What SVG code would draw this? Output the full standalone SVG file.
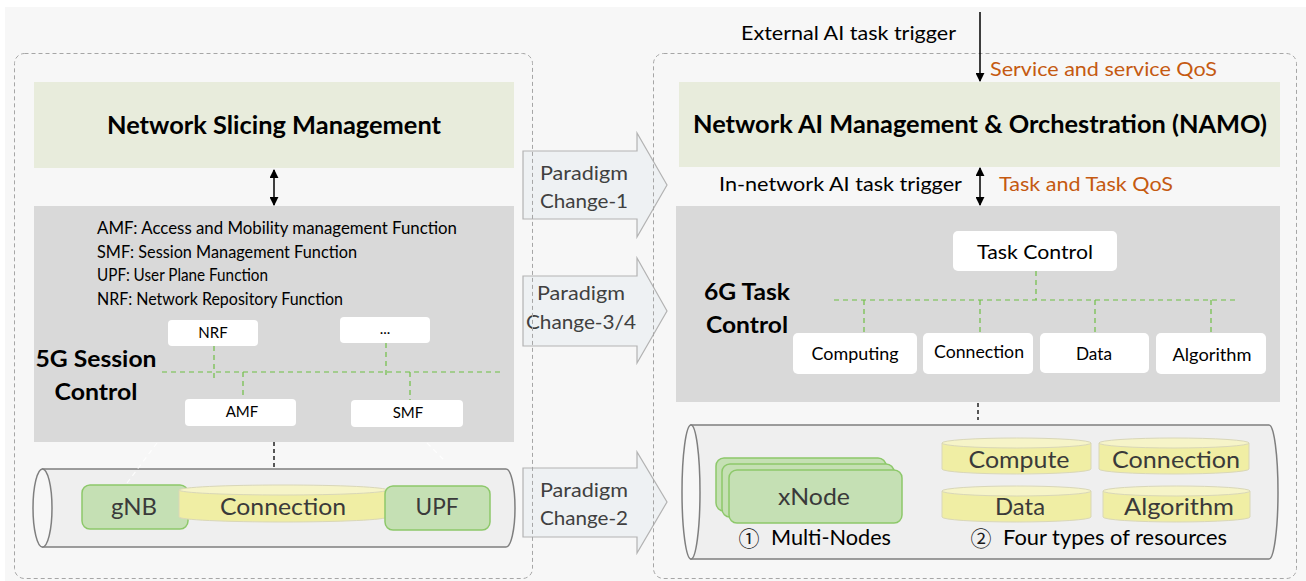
<svg xmlns="http://www.w3.org/2000/svg" width="1306" height="581" viewBox="0 0 1306 581">
<defs>
<style>
.panel{fill:none;stroke:#a6a6a6;stroke-width:1;stroke-dasharray:4 3}
.mgmt{fill:#e8ecdc}
.ctrl{fill:#d9d9d9}
.wbox{fill:#ffffff}
.gdash{fill:none;stroke:#6fbf45;stroke-width:1.2;stroke-dasharray:5 4}
.kdash{fill:none;stroke:#222;stroke-width:1.5;stroke-dasharray:4 3}
.wdash{fill:none;stroke:#ffffff;stroke-width:1.2;stroke-dasharray:5 4;opacity:0.8}
.arr{fill:none;stroke:#000;stroke-width:1.5}
.t{font-family:Lato,"Liberation Sans",sans-serif;fill:#000}
.b{font-weight:bold}
.node{fill:#c5e0b4;stroke:#8dc86a;stroke-width:1.5}
.cyl{fill:#efefef;stroke:#7f7f7f;stroke-width:1.5}
.cylend{fill:#f7f7f7;stroke:#7f7f7f;stroke-width:1.5}
.yb{fill:#f0eea4;stroke:#d9d7b8;stroke-width:1}
.yt{fill:#f6f4c8;stroke:#d9d7b8;stroke-width:1}
.org{fill:#c55a11}
.para{fill:#eef1f3;stroke:#b3b3b3;stroke-width:1.2}
.pt{font-family:Lato,"Liberation Sans",sans-serif;fill:#404040;font-size:20px}
.big{font-size:24px;fill:#3a3a3a}
.circ{font-family:"Noto Sans CJK SC","DejaVu Sans",sans-serif;font-size:21px;fill:#1a1a1a}
</style>
<marker id="ah" viewBox="0 0 10 10" refX="9" refY="5" markerWidth="9" markerHeight="9" markerUnits="userSpaceOnUse" orient="auto-start-reverse"><path d="M0,0 L10,5 L0,10 Z" fill="#000"/></marker>
</defs>

<rect x="0" y="0" width="1306" height="581" fill="#ffffff"/>
<rect x="5" y="7" width="1301" height="574" fill="#f7f7f7"/>

<!-- Paradigm change arrows -->
<g id="paradigm1">
<polygon class="para" points="523,151 637,151 637,133 667,185 637,237 637,219 523,219"/>
<text class="pt" x="584" y="180" text-anchor="middle" textLength="88" lengthAdjust="spacingAndGlyphs">Paradigm</text>
<text class="pt" x="584" y="208" text-anchor="middle" textLength="88" lengthAdjust="spacingAndGlyphs">Change-1</text>
</g>
<g id="paradigm34">
<polygon class="para" points="523,276 637,276 637,258 667,311 637,363 637,346 523,346"/>
<text class="pt" x="581" y="300" text-anchor="middle" textLength="88" lengthAdjust="spacingAndGlyphs">Paradigm</text>
<text class="pt" x="581" y="329" text-anchor="middle" textLength="110" lengthAdjust="spacingAndGlyphs">Change-3/4</text>
</g>
<g id="paradigm2">
<polygon class="para" points="523,468 637,468 637,452 667,502 637,553 637,537 523,537"/>
<text class="pt" x="584" y="497" text-anchor="middle" textLength="88" lengthAdjust="spacingAndGlyphs">Paradigm</text>
<text class="pt" x="584" y="525" text-anchor="middle" textLength="88" lengthAdjust="spacingAndGlyphs">Change-2</text>
</g>

<!-- panels -->
<rect id="panel5g" class="panel" x="14.5" y="53.5" width="518" height="525" rx="10"/>
<rect id="panel6g" class="panel" x="653.5" y="53.5" width="643" height="525" rx="10"/>

<!-- LEFT -->
<g id="nsm">
<rect class="mgmt" x="34" y="82" width="480" height="86"/>
<text class="t b" x="274" y="134" font-size="24" text-anchor="middle" textLength="334" lengthAdjust="spacingAndGlyphs">Network Slicing Management</text>
</g>
<g id="sc5g">
<rect class="ctrl" x="34" y="206" width="480" height="236"/>
<text class="t" x="97" y="234" font-size="17.5" textLength="360" lengthAdjust="spacingAndGlyphs">AMF: Access and Mobility management Function</text>
<text class="t" x="97" y="258" font-size="17.5" textLength="260" lengthAdjust="spacingAndGlyphs">SMF: Session Management Function</text>
<text class="t" x="97" y="281" font-size="17.5" textLength="171" lengthAdjust="spacingAndGlyphs">UPF: User Plane Function</text>
<text class="t" x="97" y="305" font-size="17.5" textLength="246" lengthAdjust="spacingAndGlyphs">NRF: Network Repository Function</text>
<text class="t b" x="96" y="367" font-size="23" text-anchor="middle" textLength="121" lengthAdjust="spacingAndGlyphs">5G Session</text>
<text class="t b" x="96" y="400" font-size="23" text-anchor="middle" textLength="83" lengthAdjust="spacingAndGlyphs">Control</text>
</g>
<g id="nrf"><rect class="wbox" x="168" y="320" width="90" height="26" rx="4"/><text class="t" x="213" y="338" font-size="15" text-anchor="middle">NRF</text></g>
<g id="etc"><rect class="wbox" x="340" y="317" width="90" height="26" rx="4"/><text class="t" x="385" y="334" font-size="15" text-anchor="middle">...</text></g>
<g id="amf"><rect class="wbox" x="185" y="399" width="111" height="27" rx="4"/><text class="t" x="242" y="417" font-size="15" text-anchor="middle">AMF</text></g>
<g id="smf"><rect class="wbox" x="351" y="400" width="112" height="27" rx="4"/><text class="t" x="408" y="418" font-size="15" text-anchor="middle">SMF</text></g>

<g id="cyl5g">
<path class="cyl" d="M42.5,469 H506 A9,39 0 0 1 506,547 H42.5 Z"/>
<ellipse class="cylend" cx="42.5" cy="508" rx="9.5" ry="39"/>
</g>
<g id="gnb"><rect class="node" x="82" y="485" width="106" height="44" rx="8"/><text class="t big" x="134" y="515" text-anchor="middle" textLength="46" lengthAdjust="spacingAndGlyphs">gNB</text></g>
<g id="conn5g">
<path class="yb" d="M179,490 V517 A104,5 0 0 0 387,517 V490 Z"/>
<ellipse class="yt" cx="283" cy="490" rx="104" ry="5"/>
<text class="t big" x="283" y="515" text-anchor="middle" textLength="126" lengthAdjust="spacingAndGlyphs" fill="#262626">Connection</text>
</g>
<g id="upf"><rect class="node" x="385" y="486" width="105" height="44" rx="8"/><text class="t big" x="437" y="515" text-anchor="middle" textLength="43" lengthAdjust="spacingAndGlyphs">UPF</text></g>

<!-- RIGHT -->
<g id="namo">
<rect class="mgmt" x="679" y="82" width="601" height="85"/>
<text class="t b" x="980" y="133" font-size="24" text-anchor="middle" textLength="574" lengthAdjust="spacingAndGlyphs">Network AI Management &amp; Orchestration (NAMO)</text>
</g>
<g id="labels">
<text class="t" x="741" y="40" font-size="20" textLength="215" lengthAdjust="spacingAndGlyphs" fill="#1a1a1a">External AI task trigger</text>
<text class="t org" x="990" y="76" font-size="20" textLength="227" lengthAdjust="spacingAndGlyphs">Service and service QoS</text>
<text class="t" x="719" y="191" font-size="20" textLength="243" lengthAdjust="spacingAndGlyphs" fill="#1a1a1a">In-network AI task trigger</text>
<text class="t org" x="999" y="191" font-size="20" textLength="174" lengthAdjust="spacingAndGlyphs">Task and Task QoS</text>
</g>
<g id="tc6g">
<rect class="ctrl" x="676" y="206" width="604" height="196"/>
<text class="t b" x="747" y="300" font-size="23" text-anchor="middle" textLength="86" lengthAdjust="spacingAndGlyphs">6G Task</text>
<text class="t b" x="747" y="333" font-size="23" text-anchor="middle" textLength="82" lengthAdjust="spacingAndGlyphs">Control</text>
</g>
<g id="taskcontrol"><rect class="wbox" x="953" y="231" width="164" height="40" rx="5"/><text class="t" x="1035" y="259" font-size="20" text-anchor="middle" textLength="116" lengthAdjust="spacingAndGlyphs">Task Control</text></g>
<g id="computing"><rect class="wbox" x="793" y="333" width="124" height="41" rx="5"/><text class="t" x="855" y="360" font-size="18" text-anchor="middle" textLength="87" lengthAdjust="spacingAndGlyphs">Computing</text></g>
<g id="connection"><rect class="wbox" x="923" y="333" width="110" height="41" rx="5"/><text class="t" x="979" y="358" font-size="18" text-anchor="middle" textLength="90" lengthAdjust="spacingAndGlyphs">Connection</text></g>
<g id="data"><rect class="wbox" x="1040" y="333" width="109" height="40" rx="5"/><text class="t" x="1094" y="360" font-size="18" text-anchor="middle" textLength="36" lengthAdjust="spacingAndGlyphs">Data</text></g>
<g id="algorithm"><rect class="wbox" x="1156" y="333" width="110" height="41" rx="5"/><text class="t" x="1212" y="361" font-size="18" text-anchor="middle" textLength="79" lengthAdjust="spacingAndGlyphs">Algorithm</text></g>

<g id="cyl6g">
<path class="cyl" d="M691,425 H1269 A9,67 0 0 1 1269,559 H691 Z"/>
<ellipse class="cylend" cx="691" cy="492" rx="9" ry="67"/>
</g>
<g id="xnode">
<rect class="node" x="716" y="458" width="170" height="53" rx="8"/>
<rect class="node" x="722" y="464" width="172" height="53" rx="8"/>
<rect class="node" x="729" y="470" width="173" height="53" rx="8"/>
<text class="t big" x="814" y="505" text-anchor="middle" textLength="72" lengthAdjust="spacingAndGlyphs">xNode</text>
<text class="circ" x="749" y="546" text-anchor="middle">①</text>
<text class="t" x="771" y="545" font-size="21" textLength="120" lengthAdjust="spacingAndGlyphs" fill="#1a1a1a">Multi-Nodes</text>
</g>
<g id="res-compute">
<path class="yb" d="M942,443 V469 A74.5,5 0 0 0 1091,469 V443 Z"/>
<ellipse class="yt" cx="1016.5" cy="443" rx="74.5" ry="5"/>
<text class="t big" x="1019" y="468" text-anchor="middle" textLength="101" lengthAdjust="spacingAndGlyphs" fill="#1a1a1a">Compute</text>
</g>
<g id="res-connection">
<path class="yb" d="M1099,443 V469 A75,5 0 0 0 1249,469 V443 Z"/>
<ellipse class="yt" cx="1174" cy="443" rx="75" ry="5"/>
<text class="t big" x="1176" y="468" text-anchor="middle" textLength="128" lengthAdjust="spacingAndGlyphs" fill="#1a1a1a">Connection</text>
</g>
<g id="res-data">
<path class="yb" d="M942,491 V517 A74.5,5 0 0 0 1091,517 V491 Z"/>
<ellipse class="yt" cx="1016.5" cy="491" rx="74.5" ry="5"/>
<text class="t big" x="1020" y="515" text-anchor="middle" textLength="50" lengthAdjust="spacingAndGlyphs" fill="#1a1a1a">Data</text>
</g>
<g id="res-algorithm">
<path class="yb" d="M1103,491 V517 A73.5,5 0 0 0 1250,517 V491 Z"/>
<ellipse class="yt" cx="1176.5" cy="491" rx="73.5" ry="5"/>
<text class="t big" x="1179" y="515" text-anchor="middle" textLength="110" lengthAdjust="spacingAndGlyphs" fill="#1a1a1a">Algorithm</text>
</g>
<g id="restext">
<text class="circ" x="981" y="546" text-anchor="middle">②</text>
<text class="t" x="1003" y="545" font-size="21" textLength="224" lengthAdjust="spacingAndGlyphs" fill="#1a1a1a">Four types of resources</text>
</g>

<!-- connectors -->
<g id="connectors">
<path class="gdash" d="M162,372 H503 M214,346 V378 M386,343 V375 M243,372 V399 M410,372 V400"/>
<path class="gdash" d="M1036,271 V300 M834,300 H1238 M864,300 V333 M980,300 V333 M1095,300 V333 M1211,300 V333"/>
<path class="kdash" d="M274,442 V468 M978,403 V420"/>
<path class="wdash" d="M127,483 L157,443 M427,443 L444,460"/>
<line class="arr" x1="274" y1="170" x2="274" y2="205" marker-start="url(#ah)" marker-end="url(#ah)"/>
<line class="arr" x1="980" y1="168" x2="980" y2="205" marker-start="url(#ah)" marker-end="url(#ah)"/>
<line class="arr" x1="980" y1="12" x2="980" y2="81" marker-end="url(#ah)"/>
</g>
</svg>
